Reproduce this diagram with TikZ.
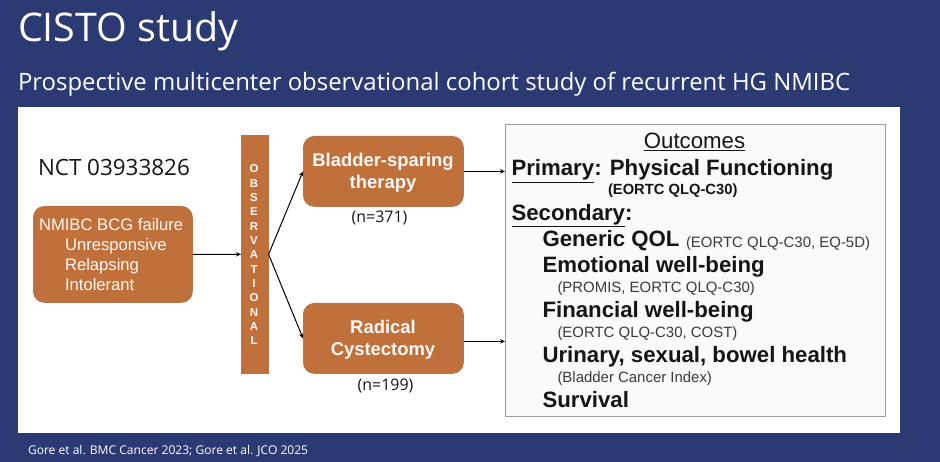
\documentclass[tikz,border=0pt]{standalone}
\usepackage{fontspec}
\setmainfont{Liberation Sans}
\newfontfamily\slidefont{Open Sans}
\definecolor{navy}{HTML}{2B3A73}
\definecolor{rust}{HTML}{C0703A}
\definecolor{rustedge}{HTML}{B5764C}
\definecolor{inkc}{HTML}{151515}
\definecolor{subc}{HTML}{3A3A3A}
\newcommand{\fs}[1]{\fontsize{#1}{#1}\selectfont}
\newcommand{\ul}[1]{\underline{#1}}
\tikzset{
  x=1bp,y=-1bp,
  txt/.style={inner sep=0pt,outer sep=0pt,anchor=base west,text=inkc},
  slide/.style={txt,text=white,font=\slidefont},
  orange/.style={draw=rustedge,line width=0.8bp,fill=rust,rounded corners=11bp,inner sep=0pt,minimum width=159bp},
  wtxt/.style={txt,text=white!95!rust},
  big/.style={txt,font=\fs{22.3}\bfseries},
  small/.style={txt,text=subc,font=\fs{15}},
  conn/.style={draw=black,line width=1bp,-{Stealth[length=5bp,width=4.5bp]}},
}
\usetikzlibrary{arrows.meta}
\begin{document}
\begin{tikzpicture}
\useasboundingbox (0,0) rectangle (940,462);
\fill[navy] (0,0) rectangle (940,462);
\fill[white] (18,107) rectangle (900,433);
\node[slide,font=\slidefont\fs{39.6}] (title) at (18,42) {CISTO study};
\node[slide,font=\slidefont\fs{24}] (subtitle) at (18,91) {Prospective multicenter observational cohort study of recurrent HG NMIBC};
\node[slide,font=\slidefont\fs{12.1}] (cite) at (28,454) {Gore et al. BMC Cancer 2023; Gore et al. JCO 2025};
\node[txt,font=\slidefont\fs{22.5}] (nct) at (38,176) {NCT 03933826};

\node[orange,minimum height=96bp,anchor=north west] (fail) at (33,206) {};
\node[wtxt,font=\fs{16.7}] at (39,231) {NMIBC BCG failure};
\node[wtxt,font=\fs{16.7}] at (65,251) {Unresponsive};
\node[wtxt,font=\fs{16.7}] at (65,271) {Relapsing};
\node[wtxt,font=\fs{16.7}] at (65,291) {Intolerant};

\node[draw=rustedge,line width=0.6bp,fill=rust,minimum width=27bp,minimum height=238bp,inner sep=0pt,anchor=north west] (obs) at (241,135) {};
\foreach \c [count=\i from 0] in {O,B,S,E,R,V,A,T,I,O,N,A,L}
  \node[inner sep=0pt,text=white!95!rust,font=\fs{11.5}\bfseries,anchor=base] at (254,173+14.33*\i) {\c};

\node[orange,minimum height=70bp,anchor=north west,minimum width=160bp] (bladder) at (303,136) {};
\node[wtxt,font=\fs{18.5}\bfseries,anchor=base] at (383,167) {Bladder-sparing};
\node[wtxt,font=\fs{18.5}\bfseries,anchor=base] at (383,189) {therapy};
\node[txt,anchor=base,font=\slidefont\fs{16}] (n1) at (379.5,223) {(n=371)};

\node[orange,minimum height=70bp,anchor=north west,minimum width=160bp] (radical) at (303,303) {};
\node[wtxt,font=\fs{18.5}\bfseries,anchor=base] at (383,334) {Radical};
\node[wtxt,font=\fs{18.5}\bfseries,anchor=base] at (383,356) {Cystectomy};
\node[txt,anchor=base,font=\slidefont\fs{16}] (n2) at (385.5,390) {(n=199)};

\node[draw=black!38,line width=0.8bp,fill=black!2,minimum width=380bp,minimum height=292bp,inner sep=0pt,anchor=north west] (out) at (505,124) {};
\node[txt,anchor=base,font=\fs{22.3}] at (694.5,149) {\ul{Outcomes}};
\node[big] at (511.5,176) {\ul{Primary}: Physical Functioning};
\node[txt,font=\fs{14.8}\bfseries,text=inkc] at (608,195) {(EORTC QLQ-C30)};
\node[big] at (511.5,220.5) {\ul{Secondary}:};
\node[big] at (542.5,247) {Generic QOL};
\node[small] at (686,248) {(EORTC QLQ-C30, EQ-5D)};
\node[big] at (542.5,273) {Emotional well-being};
\node[small] at (557.5,293) {(PROMIS, EORTC QLQ-C30)};
\node[big] at (542.5,318) {Financial well-being};
\node[small] at (557.5,338) {(EORTC QLQ-C30, COST)};
\node[big] at (542.5,363) {Urinary, sexual, bowel health};
\node[small] at (557.5,383) {(Bladder Cancer Index)};
\node[big] at (542.5,407) {Survival};

\draw[conn] (fail.east) -- (obs.west);
\draw[conn] (obs.east) -- (bladder.west);
\draw[conn] (obs.east) -- (radical.west);
\coordinate (radA) at ([yshift=-3bp]radical.east);
\coordinate (outA) at (out.west |- bladder.east);
\coordinate (outB) at (out.west |- radA);
\draw[conn] (bladder.east) -- (outA);
\draw[conn] (radA) -- (outB);
\end{tikzpicture}
\end{document}
